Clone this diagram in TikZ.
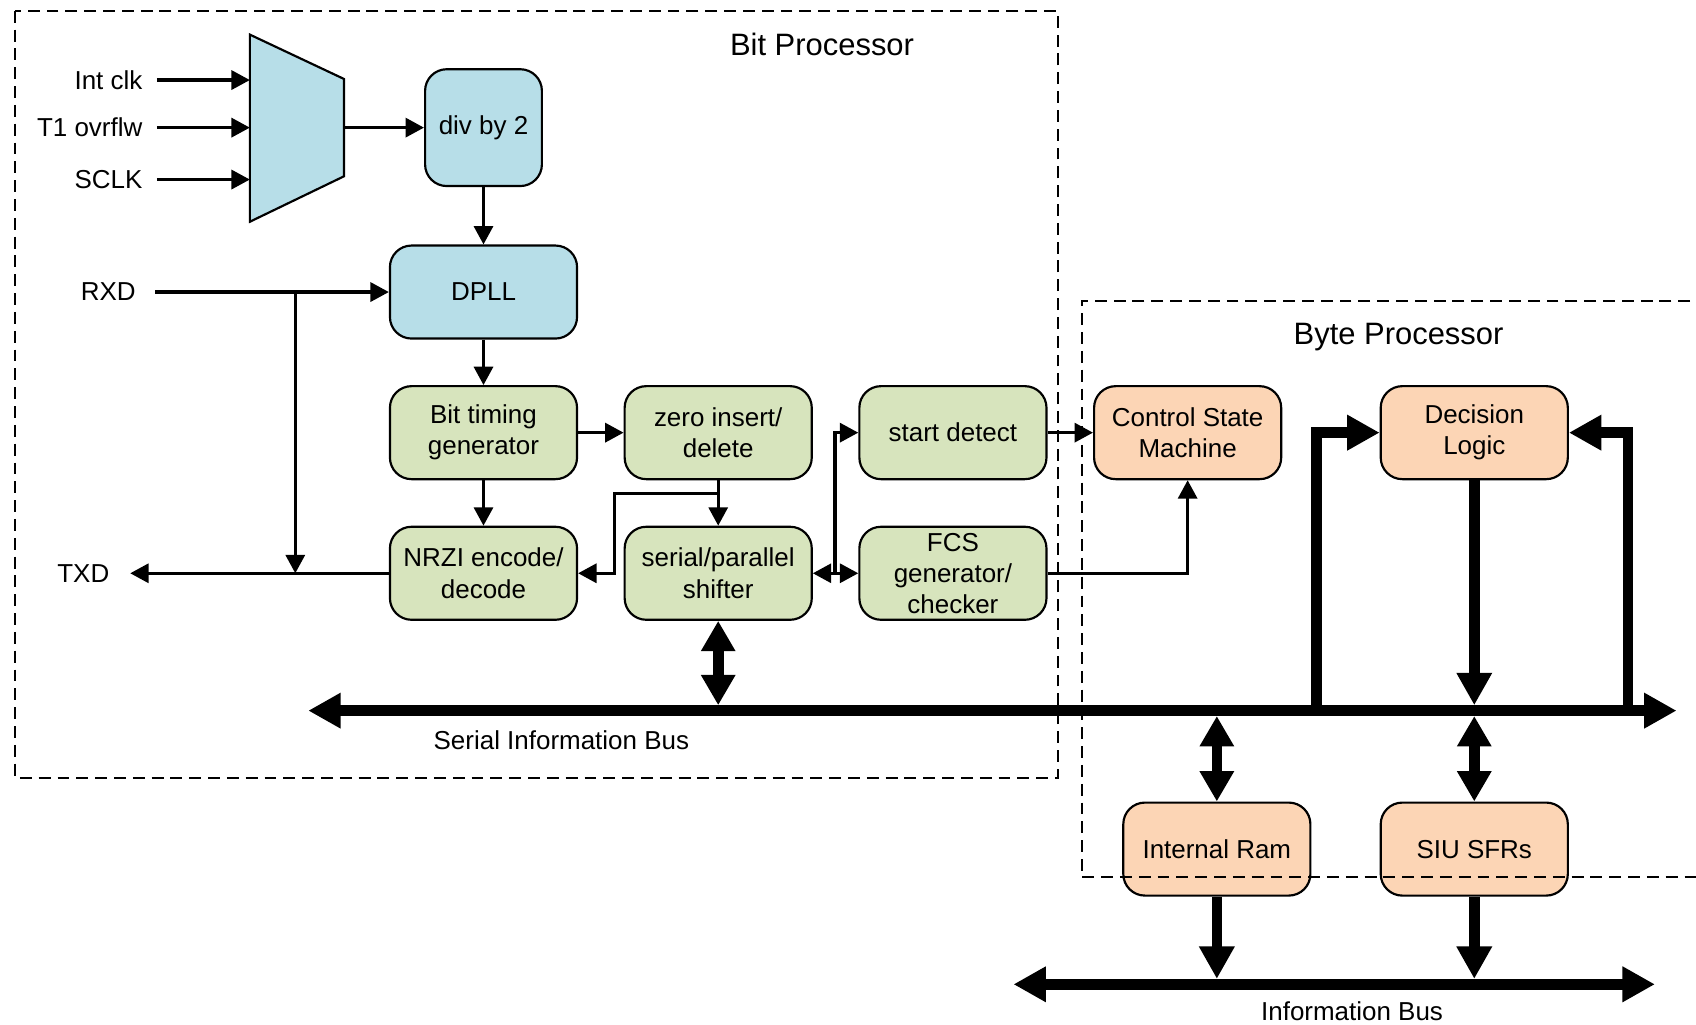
\documentclass[tikz,border=0pt]{standalone}
\usepackage{fontspec}
\setmainfont{Liberation Sans}
\usepackage{tikz}
\usetikzlibrary{calc,arrows.meta}
\usepackage{xcolor}
\definecolor{muxblue}{HTML}{B7DEE8}
\definecolor{bitgreen}{HTML}{D7E4BD}
\definecolor{byteorange}{HTML}{FCD5B5}

\begin{document}
\begin{tikzpicture}[x=0.5pt, y=-0.5pt,
  blk/.style={draw, line width=1pt, rounded corners=10pt, minimum width=86.5pt, minimum height=43pt, inner sep=1pt, align=center, font=\fontsize{12}{14.4}\selectfont},
  bluebox/.style={blk, fill=muxblue},
  greenbox/.style={blk, fill=bitgreen},
  orangebox/.style={blk, fill=byteorange},
  lbl/.style={inner sep=0, font=\fontsize{12}{14.4}\selectfont},
  ttl/.style={inner sep=0, font=\fontsize{14.3}{17}\selectfont},
  sig/.style={line width=1.45pt, -{Triangle[length=8.5pt,width=8.8pt]}},
  busarrow/.style={line width=4.9pt, -{Triangle[length=15pt,width=15.5pt]}},
  bbusarrow/.style={line width=4.9pt, {Triangle[length=14pt,width=15pt]}-{Triangle[length=14pt,width=15pt]}},
  frame/.style={line width=0.9pt, dash pattern=on 5.5pt off 3.2pt}]

\useasboundingbox (0,0) rectangle (1568,947.6);

% clock select
\draw[line width=1pt, fill=muxblue] (231,32) -- (318,73) -- (318,163) -- (231,205) -- cycle;
\coordinate (mi1) at (231,74);
\coordinate (mi2) at (231,118);
\coordinate (mi3) at (231,166);
\coordinate (mo) at (318,118);

\node[lbl, anchor=east] (intclk) at (132,74) {Int clk};
\node[lbl, anchor=east] (tovf) at (132,118) {T1 ovrflw};
\node[lbl, anchor=east] (sclk) at (132,166) {SCLK};
\node[lbl] (rxd) at (100,270) {RXD};
\node[lbl] (txd) at (77,530) {TXD};

\draw[sig] ($(intclk.east)+(13,0)$) -- (mi1);
\draw[sig] ($(tovf.east)+(13,0)$) -- (mi2);
\draw[sig] ($(sclk.east)+(13,0)$) -- (mi3);

% blocks
\node[bluebox, minimum width=54pt, minimum height=54pt] (div) at (447,118) {div by 2};
\node[bluebox] (dpll) at (447,270) {DPLL};
\node[greenbox] (bt) at (447,400) {Bit timing\\generator};
\node[greenbox] (zi) at (664,400) {zero insert/\\delete};
\node[greenbox] (sd) at (881,400) {start detect};
\node[greenbox] (nrzi) at (447,530) {NRZI encode/\\decode};
\node[greenbox] (sp) at (664,530) {serial/parallel\\shifter};
\node[greenbox] (fcs) at (881,530) {FCS\\generator/\\checker};
\node[orangebox] (csm) at (1098,400) {Control State\\Machine};
\node[orangebox] (dl) at (1363,400) {Decision\\Logic};
\node[orangebox] (ir) at (1125,785) {Internal Ram};
\node[orangebox] (siu) at (1363,785) {SIU SFRs};

% thin connectors
\draw[sig] (mo) -- (div.west);
\draw[sig] (div.south) -- (dpll.north);
\draw[sig] ($(rxd.east)+(18,0)$) -- (dpll.west);
\coordinate (rb) at (273,270);
\coordinate (tb) at (273,530);
\draw[sig] (rb) -- (tb);
\draw[sig] (nrzi.west) -- ($(txd.east)+(19,0)$);
\draw[sig] (dpll.south) -- (bt.north);
\draw[sig] (bt.east) -- (zi.west);
\draw[sig] (bt.south) -- (nrzi.north);
\draw[sig] (zi.south) -- (sp.north);
\draw[sig] ($(zi.south)+(0,12)$) -| ($(nrzi.east)+(34,0)$) -- (nrzi.east);
\coordinate (jn) at (772,530);
\draw[sig] (jn) -- (sp.east);
\draw[sig] (jn) -- (fcs.west);
\draw[sig] (jn) |- (sd.west);
\draw[sig] (sd.east) -- (csm.west);
\draw[sig] (fcs.east) -| (csm.south);

% serial information bus
\coordinate (sibl) at (285,657);
\coordinate (sibr) at (1550,657);
\draw[line width=4.9pt, {Triangle[length=15pt,width=15.5pt]}-{Triangle[length=15pt,width=15.5pt]}] (sibl) -- (sibr);
\node[lbl] (sibtxt) at (519,684) {Serial Information Bus};

\coordinate (b1) at (664,652);
\coordinate (b2) at (1217,657);
\coordinate (b3) at (1363,652);
\coordinate (b4) at (1505,657);
\coordinate (b5) at (1125,662);
\coordinate (b6) at (1363,662);

\draw[bbusarrow] (sp.south) -- (b1);
\draw[busarrow, line join=miter] (b2) |- (dl.west);
\draw[busarrow] (dl.south) -- (b3);
\draw[busarrow, line join=miter] (b4) |- (dl.east);
\draw[bbusarrow] (b5) -- (ir.north);
\draw[bbusarrow] (b6) -- (siu.north);

% information bus
\coordinate (ibl) at (937,910);
\coordinate (ibr) at (1530,910);
\draw[line width=4.9pt, {Triangle[length=15pt,width=15.5pt]}-{Triangle[length=15pt,width=15.5pt]}] (ibl) -- (ibr);
\node[lbl] (ibtxt) at (1250,935) {Information Bus};
\draw[busarrow] (ir.south) -- (1125,905);
\draw[busarrow] (siu.south) -- (1363,905);

% processor frames
\draw[frame] (14,10) rectangle (978,719);
\draw[frame] (1580,278) -- (1000,278) -- (1000,811) -- (1580,811);
\node[ttl] (bittxt) at (760,41) {Bit Processor};
\node[ttl] (bytetxt) at (1293,312) {Byte Processor};

\end{tikzpicture}
\end{document}
